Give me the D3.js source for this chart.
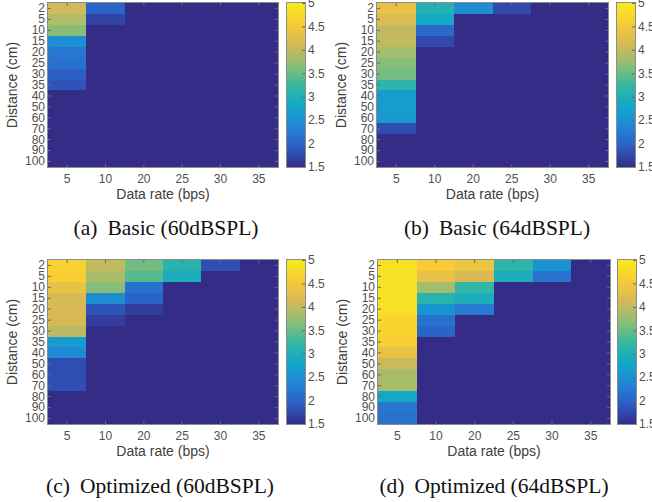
<!DOCTYPE html>
<html>
<head>
<meta charset="utf-8">
<script src="https://cdn.jsdelivr.net/npm/d3@7"></script>
<style>
  html, body { margin: 0; padding: 0; background: #fff; }
  svg { display: block; }
  .tick text { font-family: "Liberation Sans", Arial, sans-serif; font-size: 12px; fill: #505050; }
  .tick line { stroke: #6a6a6a; }
</style>
</head>
<body>
<div id="chart"></div>
<script>
// categories
const distances = ["2", "5", "10", "15", "20", "25", "30", "35", "40", "50", "60", "70", "80", "90", "100"];
const rates = ["5", "10", "20", "25", "30", "35"];
const cbTicks = [1.5, 2, 2.5, 3, 3.5, 4, 4.5, 5];

// values, one row per distance, one column per data rate
const basic60 = [
  [4.1, 2.0, 1.5, 1.5, 1.5, 1.5],
  [3.9, 1.7, 1.5, 1.5, 1.5, 1.5],
  [3.65, 1.5, 1.5, 1.5, 1.5, 1.5],
  [2.5, 1.5, 1.5, 1.5, 1.5, 1.5],
  [2.2, 1.5, 1.5, 1.5, 1.5, 1.5],
  [2.15, 1.5, 1.5, 1.5, 1.5, 1.5],
  [1.95, 1.5, 1.5, 1.5, 1.5, 1.5],
  [1.85, 1.5, 1.5, 1.5, 1.5, 1.5],
  [1.5, 1.5, 1.5, 1.5, 1.5, 1.5],
  [1.5, 1.5, 1.5, 1.5, 1.5, 1.5],
  [1.5, 1.5, 1.5, 1.5, 1.5, 1.5],
  [1.5, 1.5, 1.5, 1.5, 1.5, 1.5],
  [1.5, 1.5, 1.5, 1.5, 1.5, 1.5],
  [1.5, 1.5, 1.5, 1.5, 1.5, 1.5],
  [1.5, 1.5, 1.5, 1.5, 1.5, 1.5]
];

const basic64 = [
  [4.35, 3.05, 2.45, 1.75, 1.5, 1.5],
  [4.2, 2.85, 1.5, 1.5, 1.5, 1.5],
  [4.0, 2.05, 1.5, 1.5, 1.5, 1.5],
  [4.0, 1.75, 1.5, 1.5, 1.5, 1.5],
  [3.8, 1.5, 1.5, 1.5, 1.5, 1.5],
  [3.65, 1.5, 1.5, 1.5, 1.5, 1.5],
  [3.55, 1.5, 1.5, 1.5, 1.5, 1.5],
  [3.15, 1.5, 1.5, 1.5, 1.5, 1.5],
  [2.65, 1.5, 1.5, 1.5, 1.5, 1.5],
  [2.65, 1.5, 1.5, 1.5, 1.5, 1.5],
  [2.6, 1.5, 1.5, 1.5, 1.5, 1.5],
  [1.8, 1.5, 1.5, 1.5, 1.5, 1.5],
  [1.5, 1.5, 1.5, 1.5, 1.5, 1.5],
  [1.5, 1.5, 1.5, 1.5, 1.5, 1.5],
  [1.5, 1.5, 1.5, 1.5, 1.5, 1.5]
];

const opt60 = [
  [4.65, 4.0, 3.55, 3.1, 1.8, 1.5],
  [4.6, 3.85, 3.4, 2.95, 1.5, 1.5],
  [4.35, 3.65, 2.15, 1.5, 1.5, 1.5],
  [4.15, 2.45, 2.0, 1.5, 1.5, 1.5],
  [4.15, 1.85, 1.65, 1.5, 1.5, 1.5],
  [4.15, 1.65, 1.5, 1.5, 1.5, 1.5],
  [3.95, 1.5, 1.5, 1.5, 1.5, 1.5],
  [2.65, 1.5, 1.5, 1.5, 1.5, 1.5],
  [2.4, 1.5, 1.5, 1.5, 1.5, 1.5],
  [1.8, 1.5, 1.5, 1.5, 1.5, 1.5],
  [1.8, 1.5, 1.5, 1.5, 1.5, 1.5],
  [1.8, 1.5, 1.5, 1.5, 1.5, 1.5],
  [1.5, 1.5, 1.5, 1.5, 1.5, 1.5],
  [1.5, 1.5, 1.5, 1.5, 1.5, 1.5],
  [1.5, 1.5, 1.5, 1.5, 1.5, 1.5]
];

const opt64 = [
  [4.85, 4.55, 4.4, 3.15, 2.55, 1.5],
  [4.85, 4.35, 4.15, 2.95, 2.15, 1.5],
  [4.85, 3.8, 3.2, 1.5, 1.5, 1.5],
  [4.85, 3.1, 2.95, 1.5, 1.5, 1.5],
  [4.85, 2.55, 2.25, 1.5, 1.5, 1.5],
  [4.7, 2.15, 1.5, 1.5, 1.5, 1.5],
  [4.7, 2.0, 1.5, 1.5, 1.5, 1.5],
  [4.6, 1.5, 1.5, 1.5, 1.5, 1.5],
  [4.35, 1.5, 1.5, 1.5, 1.5, 1.5],
  [4.05, 1.5, 1.5, 1.5, 1.5, 1.5],
  [3.85, 1.5, 1.5, 1.5, 1.5, 1.5],
  [3.85, 1.5, 1.5, 1.5, 1.5, 1.5],
  [2.85, 1.5, 1.5, 1.5, 1.5, 1.5],
  [2.2, 1.5, 1.5, 1.5, 1.5, 1.5],
  [2.15, 1.5, 1.5, 1.5, 1.5, 1.5]
];

// parula-like colormap stops, toned to the printed figure
const parula = ["#352c87", "#2c5ec6", "#2187d6", "#10a8c8", "#37b89f", "#8ebe74", "#d6b957", "#f8cb35", "#f6ec1c"];
const color = d3.scaleLinear()
  .domain(parula.map((c, i) => 1.5 + 3.5 * i / (parula.length - 1)))
  .range(parula)
  .clamp(true);

const width = 652, height = 502;
const svg = d3.select('#chart').append('svg')
  .attr('width', width)
  .attr('height', height);

// gradient for the colorbars
const grad = svg.append('defs').append('linearGradient')
  .attr('id', 'cbGrad')
  .attr('x1', 0).attr('y1', 1).attr('x2', 0).attr('y2', 0);
d3.range(0, 1.0001, 0.02).forEach(t => {
  grad.append('stop')
    .attr('offset', t)
    .attr('stop-color', color(1.5 + 3.5 * t));
});

const panels = [
  { data: basic60, x: 48, y: 3, w: 230, cbx: 287, tag: "(a)", cap: "Basic (60dBSPL)", capX: 166, capY: 235 },
  { data: basic64, x: 377, y: 3, w: 231, cbx: 617, tag: "(b)", cap: "Basic (64dBSPL)", capX: 497, capY: 235 },
  { data: opt60, x: 48, y: 260, w: 230, cbx: 287, tag: "(c)", cap: "Optimized (60dBSPL)", capX: 160, capY: 493 },
  { data: opt64, x: 378, y: 260, w: 232, cbx: 618, tag: "(d)", cap: "Optimized (64dBSPL)", capX: 494, capY: 493 }
];
const plotH = 164, cbW = 18;

panels.forEach(p => {
  const g = svg.append('g').attr('transform', `translate(${p.x},${p.y})`);

  const x = d3.scaleBand().domain(rates).range([0, p.w]);
  const y = d3.scaleBand().domain(distances).range([0, plotH]);

  // heatmap cells
  const cells = [];
  p.data.forEach((row, i) => row.forEach((v, j) => cells.push({ d: distances[i], r: rates[j], v: v })));
  g.selectAll('rect.cell')
    .data(cells)
    .enter()
    .append('rect')
    .attr('class', 'cell')
    .attr('x', d => x(d.r))
    .attr('y', d => y(d.d))
    .attr('width', x.bandwidth() + 1)
    .attr('height', y.bandwidth() + 1)
    .attr('fill', d => color(d.v))
    .attr('shape-rendering', 'crispEdges');

  // axes with inward ticks on all sides
  g.append('g')
    .call(d3.axisLeft(y).tickSizeInner(-3).tickSizeOuter(0).tickPadding(3))
    .call(a => a.select('.domain').remove());
  g.append('g')
    .attr('transform', `translate(0,${plotH})`)
    .call(d3.axisBottom(x).tickSizeInner(-3).tickSizeOuter(0).tickPadding(7))
    .call(a => a.select('.domain').remove());
  g.append('g')
    .call(d3.axisTop(x).tickSizeInner(-3).tickSizeOuter(0).tickFormat(''))
    .call(a => a.select('.domain').remove());
  g.append('g')
    .attr('transform', `translate(${p.w},0)`)
    .call(d3.axisRight(y).tickSizeInner(-3).tickSizeOuter(0).tickFormat(''))
    .call(a => a.select('.domain').remove());

  // frame
  g.append('rect')
    .attr('x', -0.5)
    .attr('y', -0.5)
    .attr('width', p.w + 1)
    .attr('height', plotH + 1)
    .attr('fill', 'none')
    .attr('stroke', '#8c8c8c')
    .attr('stroke-width', 1);

  // axis labels
  g.append('text')
    .attr('x', p.w / 2)
    .attr('y', plotH + 32)
    .attr('text-anchor', 'middle')
    .style('font-family', '"Liberation Sans", Arial, sans-serif')
    .style('font-size', '14px')
    .style('fill', '#404040')
    .text('Data rate (bps)');
  g.append('text')
    .attr('transform', `translate(${-31},${plotH / 2}) rotate(-90)`)
    .attr('text-anchor', 'middle')
    .style('font-family', '"Liberation Sans", Arial, sans-serif')
    .style('font-size', '14px')
    .style('fill', '#404040')
    .text('Distance (cm)');

  // colorbar
  const cb = svg.append('g').attr('transform', `translate(${p.cbx},${p.y})`);
  const cy = d3.scaleLinear().domain([1.5, 5]).range([plotH, 0]);
  cb.append('rect')
    .attr('width', cbW)
    .attr('height', plotH)
    .attr('fill', 'url(#cbGrad)');
  cb.append('g')
    .attr('transform', `translate(${cbW},0)`)
    .call(d3.axisRight(cy).tickValues(cbTicks).tickSizeInner(-3).tickSizeOuter(0).tickPadding(3).tickFormat(d3.format('')))
    .call(a => a.select('.domain').remove());
  cb.append('rect')
    .attr('x', -0.5)
    .attr('y', -0.5)
    .attr('width', cbW + 1)
    .attr('height', plotH + 1)
    .attr('fill', 'none')
    .attr('stroke', '#8c8c8c');

  // caption
  const cap = svg.append('text')
    .attr('x', p.capX)
    .attr('y', p.capY)
    .attr('text-anchor', 'middle')
    .style('font-family', '"Liberation Serif", "DejaVu Serif", serif')
    .style('font-size', '21.5px')
    .style('fill', '#111');
  cap.append('tspan').text(p.tag);
  cap.append('tspan').attr('dx', 10).text(p.cap);
});
</script>
</body>
</html>
